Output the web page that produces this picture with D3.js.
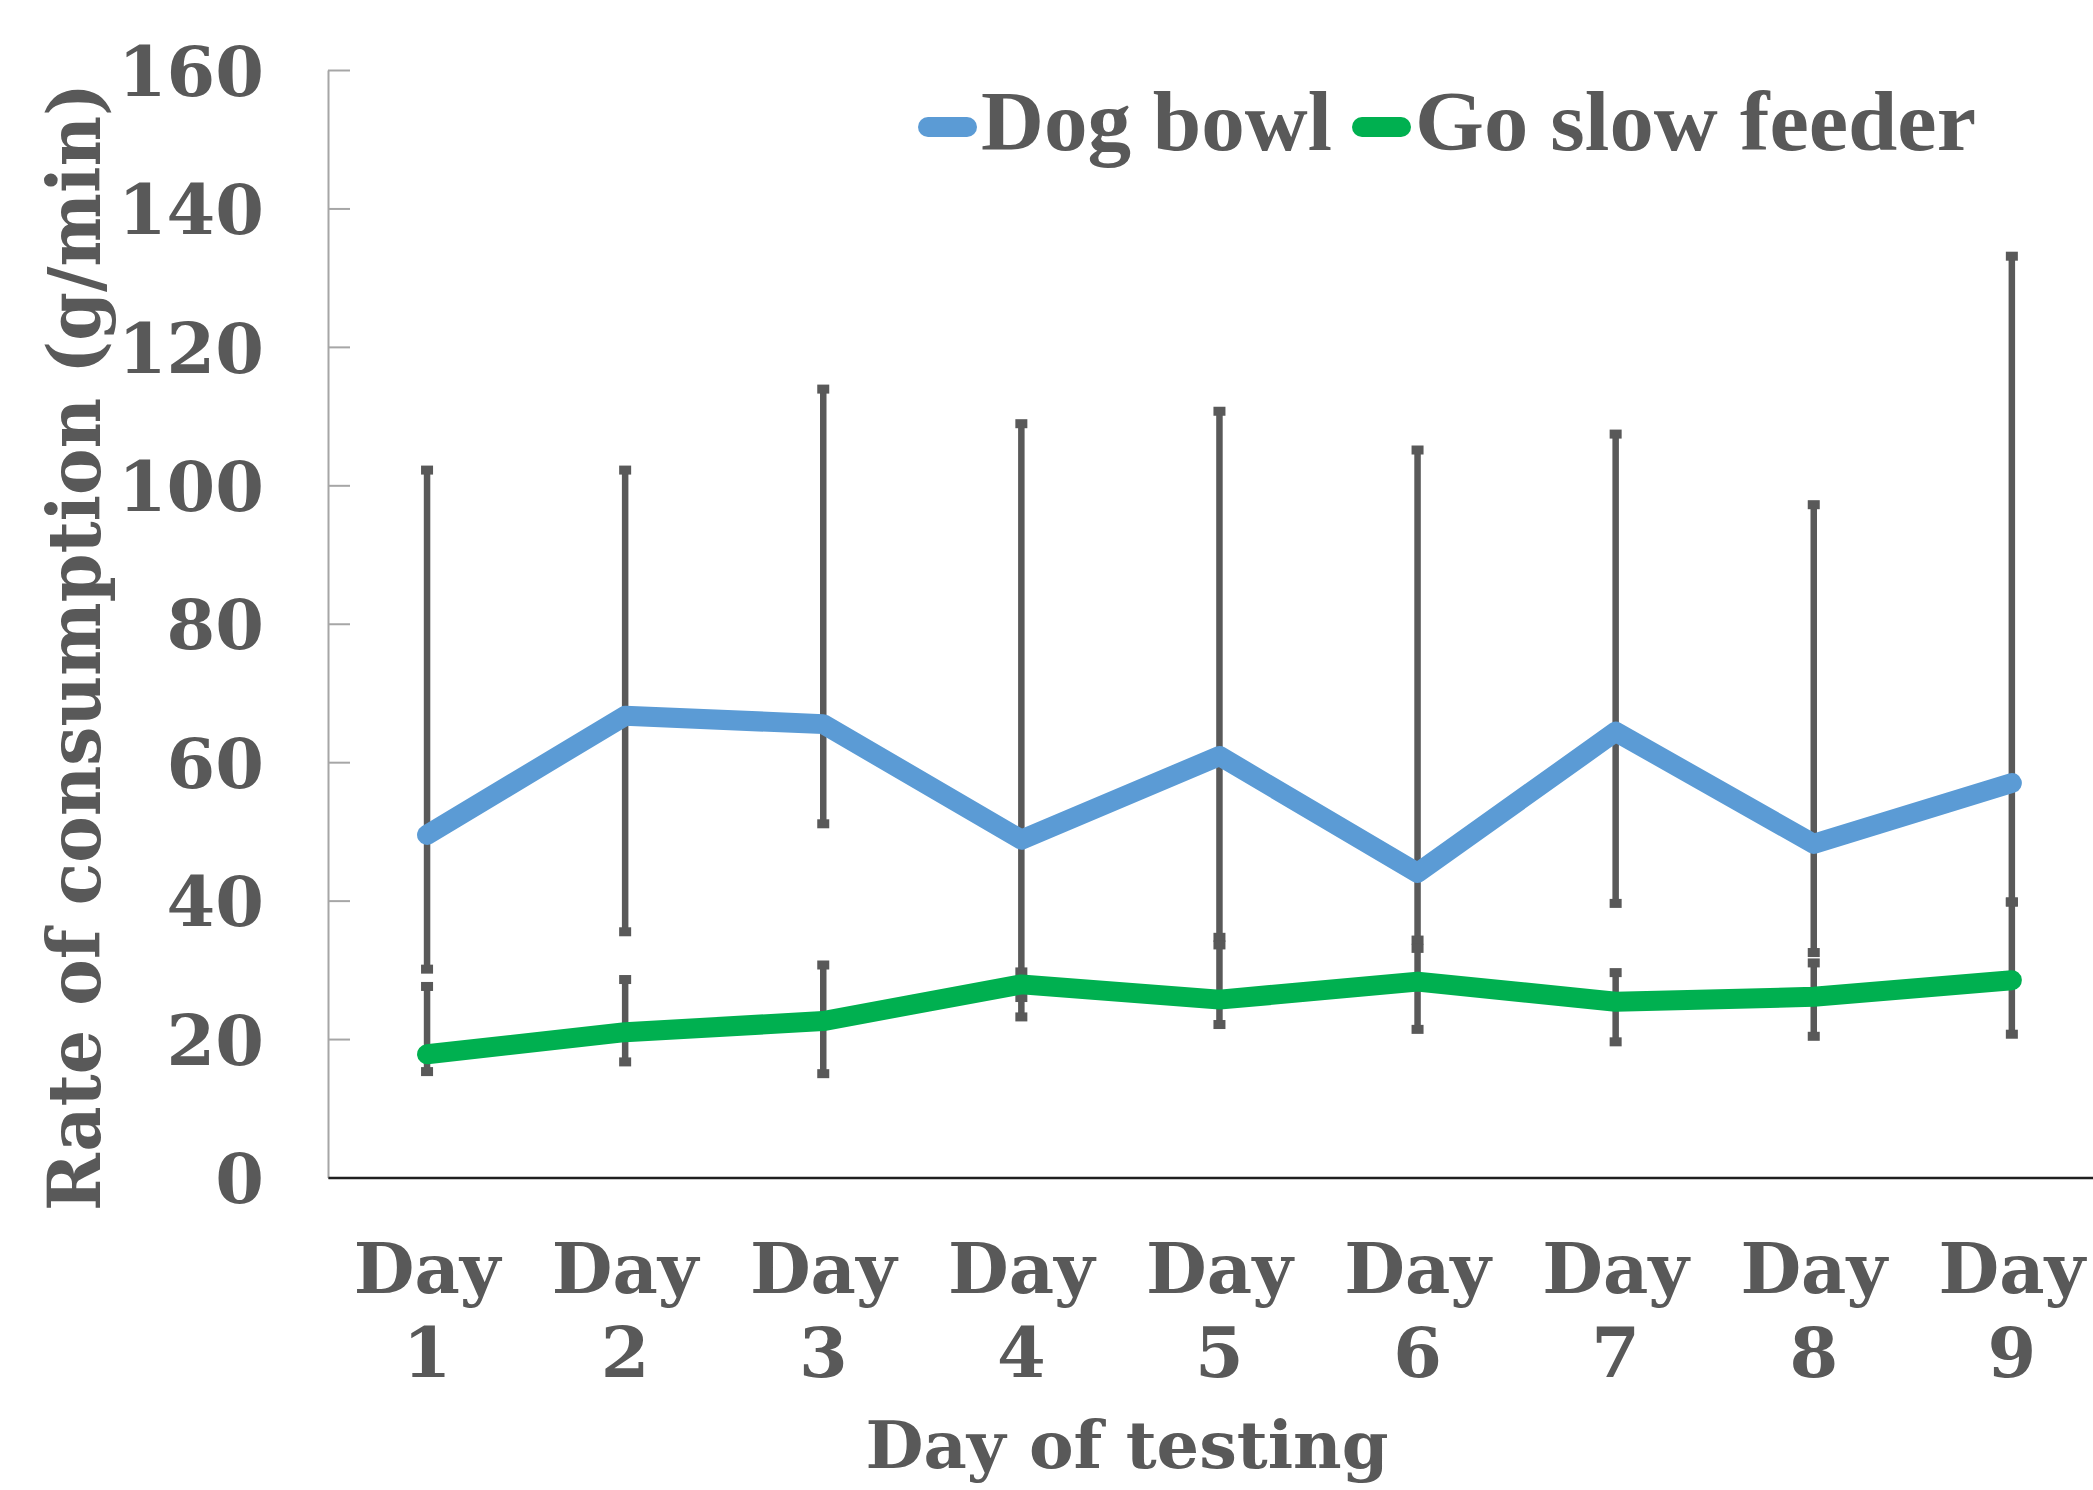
<!DOCTYPE html>
<html>
<head>
<meta charset="utf-8">
<script src="https://cdn.jsdelivr.net/npm/d3@7"></script>
<style>
  html, body { margin: 0; padding: 0; background: #fff; overflow: hidden; }
  svg { display: block; }
</style>
</head>
<body>
<script>
// dati
const days = ["1", "2", "3", "4", "5", "6", "7", "8", "9"];
const dogBowl = [49.5, 66.7, 65.5, 48.8, 60.9, 44.0, 64.4, 48.2, 57.0];
const dogHigh = [102.2, 102.2, 113.9, 108.9, 110.7, 105.1, 107.4, 97.2, 133.1];
const dogLow = [30.1, 35.5, 51.1, 26.0, 34.7, 34.3, 39.6, 32.5, 39.8];
const goSlow = [17.8, 21.0, 22.6, 27.9, 25.7, 28.3, 25.4, 26.1, 28.5];
const goHigh = [27.6, 28.6, 30.7, 29.7, 33.6, 33.1, 29.6, 31.0, 39.8];
const goLow = [15.3, 16.7, 15.0, 23.2, 22.1, 21.4, 19.6, 20.4, 20.7];
const yTicks = [0, 20, 40, 60, 80, 100, 120, 140, 160];
const seriesNames = ["Dog bowl", "Go slow feeder"];
const seriesColors = ["#5B9BD5", "#00B050"];

const width = 2093;
const height = 1490;
const marginLeft = 328;
const marginTop = 70;
const plotBottom = 1177.5;
const bandW = 198.1;
const textColor = "#595959";
const serif = "'DejaVu Serif', serif";

const svg = d3.create("svg")
  .attr("width", width)
  .attr("height", height);

// scale
const x = d3.scaleBand()
  .domain(days)
  .range([marginLeft, marginLeft + bandW * days.length])
  .padding(0);

const y = d3.scaleLinear()
  .domain([0, 160])
  .range([plotBottom, marginTop]);

const cx = d => x(d) + x.bandwidth() / 2;

// asse y (tick verso l'interno)
svg.append("g")
  .attr("transform", "translate(" + marginLeft + ",0)")
  .call(d3.axisLeft(y).tickValues(yTicks).tickSizeInner(-22).tickSizeOuter(0).tickPadding(64))
  .call(g => g.select(".domain").attr("stroke", "#a6a6a6").attr("stroke-width", 2))
  .call(g => g.selectAll(".tick line").attr("stroke", "#a6a6a6").attr("stroke-width", 2))
  .call(g => g.selectAll(".tick text")
    .attr("fill", textColor)
    .attr("font-family", serif)
    .attr("font-weight", "bold")
    .attr("font-size", 70)
    .attr("dy", "0.36em"));

// asse x
svg.append("g")
  .attr("transform", "translate(0," + plotBottom + ")")
  .call(d3.axisBottom(x).tickSize(0).tickFormat(""))
  .call(g => g.select(".domain").attr("stroke", "#1f1f1f").attr("stroke-width", 2.5))
  .call(g => g.selectAll(".tick").each(function (d) {
    const t = d3.select(this).append("text")
      .attr("fill", textColor)
      .attr("font-family", serif)
      .attr("font-weight", "bold")
      .attr("font-size", 70)
      .attr("text-anchor", "middle");
    t.append("tspan").attr("x", 0).attr("y", 1293 - plotBottom).text("Day");
    t.append("tspan").attr("x", 0).attr("y", 1377 - plotBottom).text(d);
  }));

// barre di errore
const bars = [
  { hi: dogHigh, lo: dogLow },
  { hi: goHigh, lo: goLow }
];
const errG = svg.append("g").attr("fill", "#595959").attr("stroke", "#595959");
bars.forEach(b => {
  errG.selectAll(null)
    .data(days)
    .join("line")
    .attr("x1", cx).attr("x2", cx)
    .attr("y1", (d, i) => y(b.hi[i]))
    .attr("y2", (d, i) => y(b.lo[i]))
    .attr("stroke-width", 6.5);
  [b.hi, b.lo].forEach(arr => {
    errG.selectAll(null)
      .data(days)
      .join("rect")
      .attr("stroke", "none")
      .attr("x", d => cx(d) - 6)
      .attr("y", (d, i) => y(arr[i]) - 4.5)
      .attr("width", 12)
      .attr("height", 9);
  });
});

// linee delle serie
const line = d3.line()
  .x((v, i) => cx(days[i]))
  .y(v => y(v));

[dogBowl, goSlow].forEach((vals, k) => {
  svg.append("path")
    .datum(vals)
    .attr("d", line)
    .attr("fill", "none")
    .attr("stroke", seriesColors[k])
    .attr("stroke-width", 20)
    .attr("stroke-linecap", "round")
    .attr("stroke-linejoin", "round");
});

// legenda
const legendItems = [
  { x1: 928, x2: 967, tx: 981, tw: 351 },
  { x1: 1362, x2: 1401, tx: 1415, tw: 561 }
];
const leg = svg.append("g");
legendItems.forEach((it, k) => {
  leg.append("line")
    .attr("x1", it.x1).attr("x2", it.x2)
    .attr("y1", 127).attr("y2", 127)
    .attr("stroke", seriesColors[k])
    .attr("stroke-width", 20)
    .attr("stroke-linecap", "round");
  leg.append("text")
    .attr("x", it.tx)
    .attr("y", 150)
    .attr("fill", textColor)
    .attr("font-family", "'Liberation Serif', serif")
    .attr("font-weight", "bold")
    .attr("font-size", 84)
    .attr("textLength", it.tw)
    .attr("lengthAdjust", "spacingAndGlyphs")
    .text(seriesNames[k]);
});

// titoli degli assi
svg.append("text")
  .attr("transform", "translate(100," + 647 + ") rotate(-90)")
  .attr("text-anchor", "middle")
  .attr("fill", textColor)
  .attr("font-family", serif)
  .attr("font-weight", "bold")
  .attr("font-size", 72)
  .attr("textLength", 1128)
  .attr("lengthAdjust", "spacingAndGlyphs")
  .text("Rate of consumption (g/min)");

svg.append("text")
  .attr("x", 1127)
  .attr("y", 1468)
  .attr("text-anchor", "middle")
  .attr("fill", textColor)
  .attr("font-family", serif)
  .attr("font-weight", "bold")
  .attr("font-size", 66)
  .attr("textLength", 523)
  .attr("lengthAdjust", "spacingAndGlyphs")
  .text("Day of testing");

document.body.appendChild(svg.node());
</script>
</body>
</html>
